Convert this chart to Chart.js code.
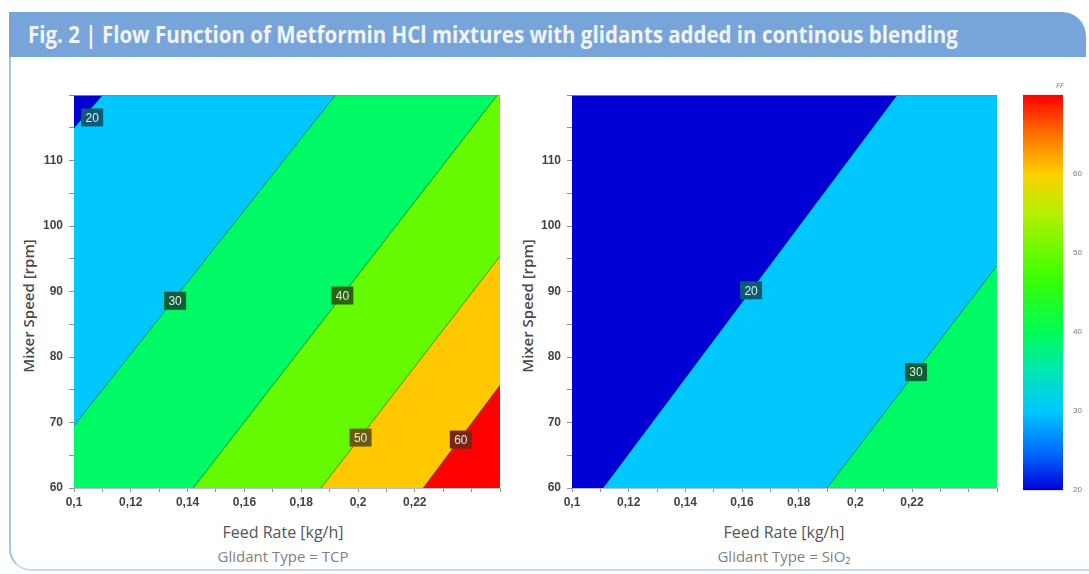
<!DOCTYPE html>
<html>
<head>
<meta charset="utf-8">
<script src="https://cdn.jsdelivr.net/npm/chart.js@4.4.0/dist/chart.umd.min.js"></script>
<style>
  body { margin: 0; width: 1089px; height: 574px; background: #fff; position: relative; overflow: hidden; font-family: "Open Sans", sans-serif; }
  #hdr { position: absolute; left: 9px; top: 12px; width: 1077px; height: 45px; background: #77a5da; border-top-right-radius: 24px; }
  #hdrText { position: absolute; left: 19px; top: 6px; white-space: nowrap; color: #f1f5fb; font-family: "Liberation Sans Narrow", "Open Sans", sans-serif; font-weight: bold; font-size: 23px; transform-origin: 0 0; }
  #frame { position: absolute; left: 9px; top: 57px; width: 1100px; height: 512px; border-left: 2px solid #a9c3e3; border-bottom: 2px solid #c9d9ee; border-bottom-left-radius: 22px; }
  canvas { position: absolute; }
  .t { position: absolute; white-space: nowrap; transform: translate(-50%, -50%); }
  .ytitle { font-size: 15px; font-weight: 600; color: #4a4a4a; transform: translate(-50%, -50%) rotate(-90deg); }
  .xtitle { font-size: 16px; color: #555; }
  .sub { font-size: 15px; color: #808080; }
  #ff { position: absolute; left: 1056px; top: 79px; font-size: 8px; font-style: italic; color: #777; }
</style>
</head>
<body>
<div id="hdr"><div id="hdrText">Fig. 2 | Flow Function of Metformin HCl mixtures with glidants added in continous blending</div></div>
<div id="frame"></div>

<canvas id="tcpChart" width="470" height="426" style="left:40px;top:82px"></canvas>
<canvas id="sioChart" width="470" height="426" style="left:538px;top:82px"></canvas>
<canvas id="barChart" width="74" height="425" style="left:1015px;top:80px"></canvas>

<div class="t ytitle" style="left:28px;top:306px">Mixer Speed [rpm]</div>
<div class="t ytitle" style="left:527px;top:306px">Mixer Speed [rpm]</div>
<div class="t xtitle" style="left:283px;top:532px">Feed Rate [kg/h]</div>
<div class="t sub" style="left:283px;top:556px">Glidant Type = TCP</div>
<div class="t xtitle" style="left:784px;top:532px">Feed Rate [kg/h]</div>
<div class="t sub" style="left:784px;top:556px">Glidant Type = SiO₂</div>
<div id="ff">FF</div>

<script>
// axis ranges
var xRange = [0.1, 0.25];
var yRange = [60, 120];

// fill colour of each band: below 20, 20-30, 30-40, 40-50, 50-60, above 60
var bandColors = ['#0000d4', '#00c8fc', '#00fa66', '#66fa00', '#ffc800', '#ff0000'];

// TCP panel: contour levels, line end points [feed rate, mixer speed], label spots
var tcpLevels = [20, 30, 40, 50, 60];
var tcpLineStart = [[0.1, 115], [0.1, 69.5], [0.142, 60], [0.187, 60], [0.223, 60]];
var tcpLineEnd = [[0.11, 120], [0.192, 120], [0.249, 120], [0.25, 95.4], [0.25, 75.7]];
var tcpLabelAt = [[0.1064, 116.6], [0.1356, 88.6], [0.1945, 89.4], [0.2009, 67.7], [0.2362, 67.4]];

// SiO2 panel
var sioLevels = [20, 30];
var sioLineStart = [[0.111, 60], [0.19, 60]];
var sioLineEnd = [[0.2147, 120], [0.25, 94.0]];
var sioLabelAt = [[0.1632, 90.2], [0.2214, 77.7]];

// colour bar
var barRange = [20, 70];
var barStops = [20, 25, 30, 35, 40, 47, 55, 60, 65, 70];
var barColors = ['#0000d8', '#0070ff', '#00c8ff', '#00e6b4', '#00fc55', '#3cff00', '#b4f000', '#ffd000', '#ff7000', '#ff0000'];

var labelBox = { 20: '#0d5a74', 30: '#0b5e36', 40: '#2c6312', 50: '#6a5a12', 60: '#7a2412' };

function fmtComma(v) {
    return String(Math.round(v * 100) / 100).replace('.', ',');
}

// part of the plot rectangle on the high-FF side (lower right) of a contour line
function highSide(p1, p2) {
    var w = xRange[1] - xRange[0], h = yRange[1] - yRange[0];
    var rect = [[xRange[0], yRange[0]], [xRange[1], yRange[0]], [xRange[1], yRange[1]], [xRange[0], yRange[1]]];
    var side = function (p) {
        return ((p2[0] - p1[0]) / w) * ((p[1] - p1[1]) / h) - ((p2[1] - p1[1]) / h) * ((p[0] - p1[0]) / w);
    };
    var s0 = side([xRange[1], yRange[0]]) > 0 ? 1 : -1;
    var out = [];
    for (var i = 0; i < 4; i++) {
        var a = rect[i], b = rect[(i + 1) % 4];
        var sa = side(a) * s0, sb = side(b) * s0;
        if (sa >= 0) out.push(a);
        if ((sa >= 0) != (sb >= 0)) {
            var t = sa / (sa - sb);
            out.push([a[0] + t * (b[0] - a[0]), a[1] + t * (b[1] - a[1])]);
        }
    }
    out.push(out[0]);
    return out.map(function (p) { return { x: p[0], y: p[1] }; });
}

function polyDataset(points, color) {
    return { data: points, showLine: true, fill: 'shape', backgroundColor: color, borderColor: color,
             borderWidth: 0, pointRadius: 0, tension: 0 };
}

var contourLabels = {
    id: 'contourLabels',
    afterDatasetsDraw: function (chart, args, opts) {
        var ctx = chart.ctx, xs = chart.scales.x, ys = chart.scales.y;
        opts.levels.forEach(function (lv, i) {
            var px = xs.getPixelForValue(opts.at[i][0]), py = ys.getPixelForValue(opts.at[i][1]);
            ctx.save();
            ctx.fillStyle = labelBox[lv];
            ctx.fillRect(px - 11, py - 9, 22, 18);
            ctx.fillStyle = '#e4ece8';
            ctx.font = '12px "Liberation Sans", Arial, sans-serif';
            ctx.textAlign = 'center';
            ctx.textBaseline = 'middle';
            ctx.fillText(String(lv), px, py + 1);
            ctx.restore();
        });
    }
};

function makePanel(id, levels, lineStart, lineEnd, labelAt, padRight) {
    var sets = [];
    // contour lines on top
    levels.forEach(function (lv, i) {
        sets.push({ data: [{ x: lineStart[i][0], y: lineStart[i][1] }, { x: lineEnd[i][0], y: lineEnd[i][1] }],
                    showLine: true, fill: false, borderColor: 'rgba(0,70,30,0.55)', borderWidth: 1, pointRadius: 0 });
    });
    // highest band first (first dataset is drawn last)
    for (var k = levels.length - 1; k >= 0; k--) {
        sets.push(polyDataset(highSide(lineStart[k], lineEnd[k]), bandColors[levels[k] / 10 - 1]));
    }
    sets.push(polyDataset([{ x: xRange[0], y: yRange[0] }, { x: xRange[1], y: yRange[0] }, { x: xRange[1], y: yRange[1] },
                           { x: xRange[0], y: yRange[1] }, { x: xRange[0], y: yRange[0] }], bandColors[0]));

    var tickFont = { family: '"Liberation Sans", Arial, sans-serif', size: 12, weight: 'bold' };
    return new Chart(document.getElementById(id), {
        type: 'scatter',
        data: { datasets: sets },
        options: {
            responsive: false,
            animation: false,
            layout: { padding: { top: 0, right: padRight, left: 0, bottom: 0 } },
            plugins: {
                legend: { display: false },
                tooltip: { enabled: false },
                contourLabels: { levels: levels, at: labelAt }
            },
            scales: {
                x: {
                    type: 'linear', min: xRange[0], max: xRange[1],
                    border: { color: '#b7bdd6' },
                    grid: { drawOnChartArea: false, tickLength: 4, color: '#8a8f9c' },
                    ticks: {
                        stepSize: 0.01, autoSkip: false, maxRotation: 0, padding: 3, color: '#444', font: tickFont,
                        callback: function (v) {
                            var c = Math.round(v * 100);
                            return (c % 2 === 0 && c <= 22) ? fmtComma(v) : '';
                        }
                    },
                    afterFit: function (s) { s.height = 20; }
                },
                y: {
                    type: 'linear', min: yRange[0], max: yRange[1],
                    border: { color: '#b7bdd6' },
                    grid: { drawOnChartArea: false, tickLength: 5, color: '#8a8f9c' },
                    ticks: {
                        stepSize: 5, padding: 6, color: '#444', font: tickFont,
                        callback: function (v) { return (v % 10 === 0 && v <= 110) ? String(v) : ''; }
                    },
                    afterFit: function (s) { s.width = 34; }
                }
            }
        },
        plugins: [contourLabels]
    });
}

makePanel('tcpChart', tcpLevels, tcpLineStart, tcpLineEnd, tcpLabelAt, 10);
makePanel('sioChart', sioLevels, sioLineStart, sioLineEnd, sioLabelAt, 11);

new Chart(document.getElementById('barChart'), {
    type: 'bar',
    data: {
        labels: ['FF'],
        datasets: [{
            data: [barRange],
            barPercentage: 1, categoryPercentage: 1,
            borderWidth: 0,
            backgroundColor: function (c) {
                var ch = c.chart;
                if (!ch.chartArea) return bandColors[0];
                var ys = ch.scales.y;
                var g = ch.ctx.createLinearGradient(0, ys.getPixelForValue(barRange[0]), 0, ys.getPixelForValue(barRange[1]));
                barStops.forEach(function (v, i) {
                    g.addColorStop((v - barRange[0]) / (barRange[1] - barRange[0]), barColors[i]);
                });
                return g;
            }
        }]
    },
    options: {
        responsive: false,
        animation: false,
        layout: { padding: { top: 7, left: 8, right: 0, bottom: 10 } },
        plugins: { legend: { display: false }, tooltip: { enabled: false } },
        scales: {
            x: { display: false },
            y: {
                position: 'right', min: barRange[0], max: barRange[1],
                border: { display: false },
                grid: { display: false, drawTicks: false },
                ticks: {
                    stepSize: 10, padding: 10, color: '#777',
                    font: { family: '"Liberation Sans", Arial, sans-serif', size: 8 },
                    callback: function (v) { return v < barRange[1] ? String(v) : ''; }
                },
                afterFit: function (s) { s.width = 26; }
            }
        }
    }
});

// squeeze the heading to the width it has in the figure
var ht = document.getElementById('hdrText');
ht.style.transform = 'scaleX(' + (930 / ht.scrollWidth) + ')';
</script>
</body>
</html>
